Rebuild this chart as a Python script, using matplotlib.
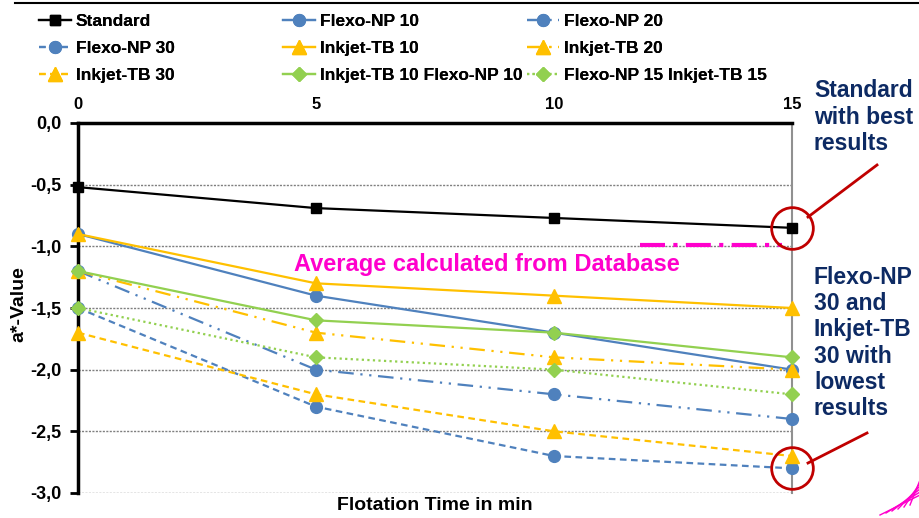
import matplotlib
matplotlib.use("Agg")
import matplotlib.pyplot as plt

plt.rcParams['font.family'] = ['Liberation Sans', 'DejaVu Sans']
plt.rcParams['font.weight'] = 'bold'

times = [0, 5, 10, 15]
standard = [-0.52, -0.69, -0.77, -0.85]
flexo_np_10 = [-0.90, -1.40, -1.70, -2.00]
flexo_np_20 = [-1.20, -2.00, -2.20, -2.40]
flexo_np_30 = [-1.50, -2.30, -2.70, -2.80]
inkjet_tb_10 = [-0.90, -1.30, -1.40, -1.50]
inkjet_tb_20 = [-1.20, -1.70, -1.90, -2.00]
inkjet_tb_30 = [-1.70, -2.20, -2.50, -2.70]
ij10_fn10 = [-1.20, -1.60, -1.70, -1.90]
fn15_ij15 = [-1.50, -1.90, -2.00, -2.20]
db_average = -0.99
db_x = [11.8, 14.8]
yticks = [0.0, -0.5, -1.0, -1.5, -2.0, -2.5, -3.0]
ytick_labels = ["0,0", "-0,5", "-1,0", "-1,5", "-2,0", "-2,5", "-3,0"]

BLUE = '#4F81BD'
ORANGE = '#FFC000'
GREEN = '#92D050'
NAVY = '#0D2A63'
RED = '#C00000'
PINK = '#FF00CC'

fig = plt.figure(figsize=(9.2, 5.18), dpi=100)
W, H = 920, 518
ax = fig.add_axes([78 / W, 1 - 493 / H, (792 - 78) / W, (493 - 123) / H])

dashdotdot = (0, (7, 3, 1, 3, 1, 3))
dashed = (0, (3, 2))
dotted = (0, (1, 1.5))

series = [
    ("Standard", standard, 'black', '-', 's', 7),
    ("Flexo-NP 10", flexo_np_10, BLUE, '-', 'o', 8.5),
    ("Flexo-NP 20", flexo_np_20, BLUE, dashdotdot, 'o', 8.5),
    ("Flexo-NP 30", flexo_np_30, BLUE, dashed, 'o', 8.5),
    ("Inkjet-TB 10", inkjet_tb_10, ORANGE, '-', '^', 9.5),
    ("Inkjet-TB 20", inkjet_tb_20, ORANGE, dashdotdot, '^', 9.5),
    ("Inkjet-TB 30", inkjet_tb_30, ORANGE, dashed, '^', 9.5),
    ("Inkjet-TB 10 Flexo-NP 10", ij10_fn10, GREEN, '-', 'D', 7),
    ("Flexo-NP 15 Inkjet-TB 15", fn15_ij15, GREEN, dotted, 'D', 7),
]

handles = {}
for name, vals, col, ls, mk, ms in series:
    ln, = ax.plot(times, vals, color=col, linestyle=ls, marker=mk, markersize=ms,
                  linewidth=1.6, label=name, clip_on=False, zorder=3)
    handles[name] = ln

ax.plot(db_x, [db_average, db_average], color=PINK, linewidth=3,
        linestyle=(0, (6, 2, 1, 2)), zorder=4)
ax.text(8.6, -1.15, "Average calculated from Database", color=PINK,
        fontsize=17, fontweight='bold', ha='center', va='center', zorder=5)

ax.set_xlim(0, 15)
ax.set_ylim(-3.0, 0.0)
ax.xaxis.tick_top()
ax.set_xticks(times)
ax.set_xticklabels([str(t) for t in times], fontsize=12, fontweight='bold')
ax.tick_params(axis='x', length=0, pad=8)
ax.set_yticks(yticks)
ax.set_yticklabels(ytick_labels, fontsize=13, fontweight='bold')
ax.tick_params(axis='y', length=6, width=2, direction='out', pad=6)
for y in yticks[1:]:
    ax.axhline(y, color='#7F7F7F', linestyle=(0, (1.5, 1)), linewidth=1, zorder=1)
ax.spines['left'].set_linewidth(2.5)
ax.spines['top'].set_linewidth(2.5)
ax.spines['bottom'].set_visible(False)
ax.spines['right'].set_color('#909090')
ax.spines['right'].set_linewidth(1.5)

fig.text(19 / W, 1 - 304 / H, "a*-Value", fontsize=14, fontweight='bold',
         rotation=90, ha='center', va='center')
fig.text(435 / W, 1 - 506 / H, "Flotation Time in min", fontsize=14,
         fontweight='bold', ha='center', va='center')

# circles around best / worst end points
ax.plot([15], [standard[-1]], marker='o', markersize=30, markerfacecolor='none',
        markeredgecolor=RED, markeredgewidth=2, clip_on=False, zorder=6)
ax.plot([15], [flexo_np_30[-1]], marker='o', markersize=30, markerfacecolor='none',
        markeredgecolor=RED, markeredgewidth=2, clip_on=False, zorder=6)

# overlay in pixel coordinates
ov = fig.add_axes([0, 0, 1, 1], facecolor='none')
ov.set_xlim(0, W)
ov.set_ylim(H, 0)
ov.axis('off')
ov.plot([15, 920], [3, 3], color='black', linewidth=1.5)
ov.plot([808, 877], [217, 165], color=RED, linewidth=2)
ov.plot([808, 867], [463, 433], color=RED, linewidth=2)
ov.text(814, 117, "Standard\nwith best\nresults", color=NAVY, fontsize=16.5,
        fontweight='bold', ha='left', va='center', linespacing=1.17)
ov.text(814, 343, "Flexo-NP\n30 and\nInkjet-TB\n30 with\nlowest\nresults", color=NAVY,
        fontsize=16.5, fontweight='bold', ha='left', va='center', linespacing=1.17)
for i in range(6):
    ov.plot([880 + i * 6, 920], [515 - i * 2, 495 - i * 3], color=PINK, linewidth=1)

# legend in three columns
cols = [["Standard", "Flexo-NP 30", "Inkjet-TB 30"],
        ["Flexo-NP 10", "Inkjet-TB 10", "Inkjet-TB 10 Flexo-NP 10"],
        ["Flexo-NP 20", "Inkjet-TB 20", "Flexo-NP 15 Inkjet-TB 15"]]
col_x = [27, 271, 515]
for names, x in zip(cols, col_x):
    leg = fig.legend([handles[n] for n in names], names, loc='upper left',
                     bbox_to_anchor=(x / W, 1 - 2 / H), frameon=False,
                     prop={'size': 12.5, 'weight': 'bold'}, handlelength=1.85,
                     handletextpad=0.25, labelspacing=0.67, borderpad=0.2)
    fig.add_artist(leg)

fig.savefig("out.png", dpi=100)
